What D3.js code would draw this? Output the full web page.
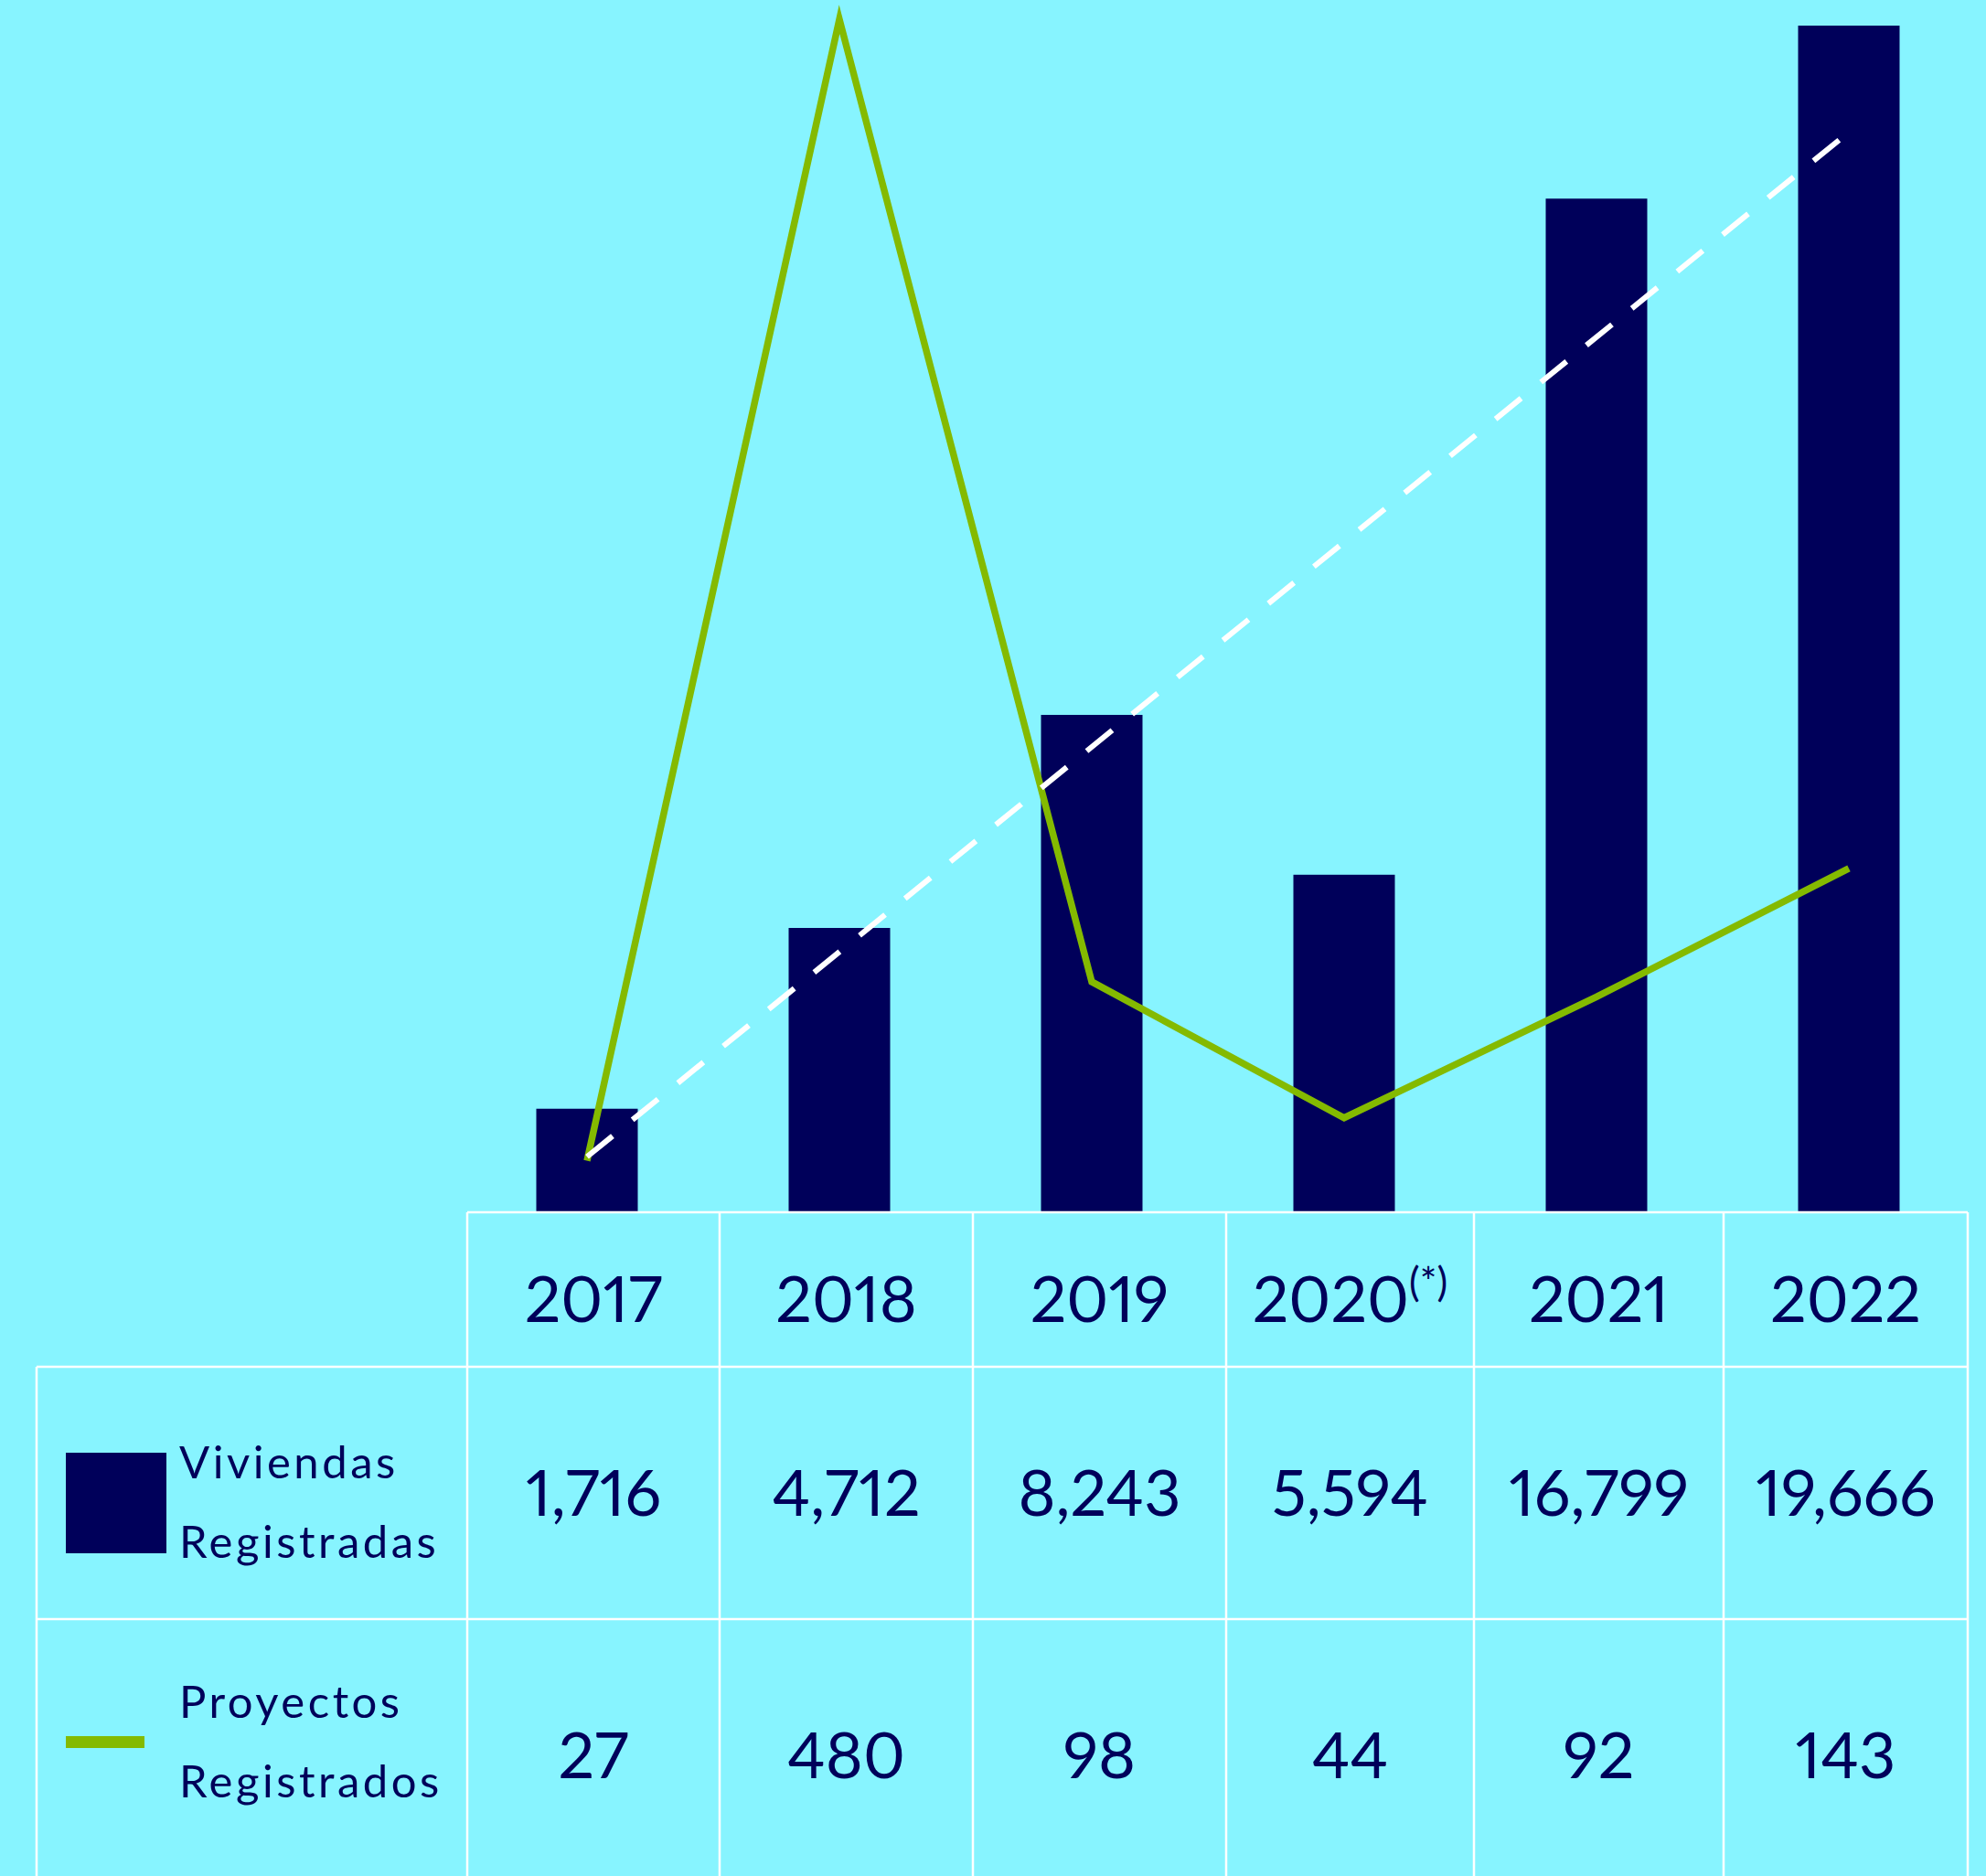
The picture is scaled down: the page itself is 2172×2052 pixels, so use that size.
<!DOCTYPE html>
<html>
<head>
<meta charset="utf-8">
<script src="https://cdn.jsdelivr.net/npm/d3@7/dist/d3.min.js"></script>
<style>
  html, body { margin: 0; padding: 0; background: #87f4ff; }
  svg { display: block; }
  text { font-family: Lato, "Open Sans", sans-serif; fill: #00005a; font-variant-numeric: proportional-nums; }
</style>
</head>
<body>
<div id="chart"></div>
<script>
// data
const years = ["2017", "2018", "2019", "2020", "2021", "2022"];
const yearNotes = ["", "", "", "(*)", "", ""];
const viviendas = [1716, 4712, 8243, 5594, 16799, 19666];
const proyectos = [27, 480, 98, 44, 92, 143];
const trendYears = ["2017", "2022"];
const trendValues = [920, 17900];
const viviendasLabel = ["Viviendas", "Registradas"];
const proyectosLabel = ["Proyectos", "Registrados"];

const W = 2172, H = 2052;
const navy = "#00005a", green = "#84ba00", bg = "#87f4ff";

// table layout (column edges of the grid)
const tableLeft = 40;
const colEdges = [511, 787, 1064, 1341, 1612, 1885, 2152];
const headTop = 1326, row1Top = 1495, row2Top = 1771;
const colMid = i => (colEdges[i] + colEdges[i + 1]) / 2;

const svg = d3.select("#chart")
  .append("svg")
  .attr("width", W)
  .attr("height", H);

svg.append("rect")
  .attr("width", W)
  .attr("height", H)
  .attr("fill", bg);

const x = d3.scalePoint()
  .domain(years)
  .range([642, 2022]);

const y = d3.scaleLinear()
  .domain([0, 20000])
  .range([headTop, 6]);

const yLine = d3.scaleLinear()
  .domain([0, 500])
  .range([1344, -34]);

const barW = 111;

// bars
svg.selectAll("rect.bar")
  .data(years.map((yr, i) => ({ yr, v: viviendas[i] })))
  .enter().append("rect")
  .attr("class", "bar")
  .attr("x", d => x(d.yr) - barW / 2)
  .attr("y", d => y(d.v))
  .attr("width", barW)
  .attr("height", d => y(0) - y(d.v))
  .attr("fill", navy);

// proyectos line
const line = d3.line()
  .x(d => x(d.yr))
  .y(d => yLine(d.v));

svg.append("path")
  .datum(years.map((yr, i) => ({ yr, v: proyectos[i] })))
  .attr("d", line)
  .attr("fill", "none")
  .attr("stroke", green)
  .attr("stroke-width", 7.5)
  .attr("stroke-linejoin", "miter")
  .attr("stroke-miterlimit", 10);

// dashed trend of viviendas
svg.append("path")
  .datum(trendYears.map((yr, i) => ({ yr, v: trendValues[i] })))
  .attr("d", d3.line().x(d => x(d.yr)).y(d => y(d.v)))
  .attr("fill", "none")
  .attr("stroke", "#ffffff")
  .attr("stroke-width", 6)
  .attr("stroke-dasharray", "36 28");

// table grid
const grid = svg.append("g")
  .attr("stroke", "#ffffff")
  .attr("stroke-width", 2.5);

grid.append("line")
  .attr("x1", colEdges[0]).attr("x2", colEdges[6])
  .attr("y1", headTop).attr("y2", headTop);

[row1Top, row2Top].forEach(yy => {
  grid.append("line")
    .attr("x1", tableLeft).attr("x2", colEdges[6])
    .attr("y1", yy).attr("y2", yy);
});

grid.append("line")
  .attr("x1", tableLeft).attr("x2", tableLeft)
  .attr("y1", row1Top).attr("y2", H);

colEdges.forEach(xx => {
  grid.append("line")
    .attr("x1", xx).attr("x2", xx)
    .attr("y1", headTop).attr("y2", H);
});

// header years
const head = svg.selectAll("text.year")
  .data(years)
  .enter().append("text")
  .attr("class", "year")
  .attr("x", (d, i) => colMid(i))
  .attr("y", 1446)
  .attr("text-anchor", "middle")
  .attr("font-size", 70);

head.append("tspan").text(d => d);
head.append("tspan")
  .attr("font-size", 44)
  .attr("dy", -28)
  .text((d, i) => yearNotes[i]);

// values
const fmt = d3.format(",");

svg.selectAll("text.viv")
  .data(viviendas)
  .enter().append("text")
  .attr("class", "viv")
  .attr("x", (d, i) => colMid(i))
  .attr("y", 1658)
  .attr("text-anchor", "middle")
  .attr("font-size", 70)
  .text(d => fmt(d));

svg.selectAll("text.pro")
  .data(proyectos)
  .enter().append("text")
  .attr("class", "pro")
  .attr("x", (d, i) => colMid(i))
  .attr("y", 1945)
  .attr("text-anchor", "middle")
  .attr("font-size", 70)
  .text(d => fmt(d));

// legend
svg.append("rect")
  .attr("x", 72).attr("y", 1589)
  .attr("width", 110).attr("height", 110)
  .attr("fill", navy);

svg.append("rect")
  .attr("x", 72).attr("y", 1899)
  .attr("width", 86).attr("height", 13)
  .attr("fill", green);

function legendText(lines, y0) {
  svg.selectAll(null)
    .data(lines)
    .enter().append("text")
    .attr("x", 196)
    .attr("y", (d, i) => y0 + i * 87)
    .attr("font-size", 49)
    .attr("letter-spacing", 3.5)
    .text(d => d);
}
legendText(viviendasLabel, 1617);
legendText(proyectosLabel, 1879);
</script>
</body>
</html>
